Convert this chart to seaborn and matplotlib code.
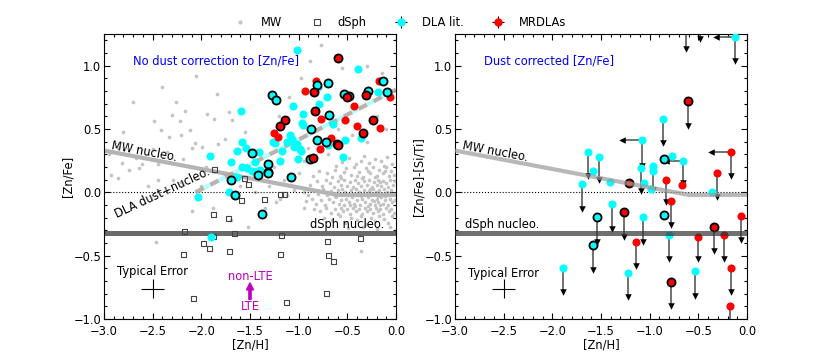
import numpy as np
import pandas as pd
import matplotlib
matplotlib.use('Agg')
import matplotlib.pyplot as plt
from matplotlib.lines import Line2D
from matplotlib.ticker import MultipleLocator
import seaborn as sns

# ---------------- data ----------------
mw_cloud = [
    (-0.55, 0.24), (-0.48, 0.27), (-0.41, 0.22), (-0.33, 0.29), (-0.28, 0.23), (-0.22, 0.26), (-0.15, 0.25),
    (-0.09, 0.28), (-0.04, 0.22), (-0.62, 0.21), (-0.36, 0.25), (-0.12, 0.21),
    (-0.71, 0.15), (-0.63, 0.18), (-0.58, 0.13), (-0.51, 0.19), (-0.46, 0.14), (-0.43, 0.20), (-0.38, 0.16),
    (-0.34, 0.12), (-0.31, 0.19), (-0.27, 0.15), (-0.24, 0.20), (-0.20, 0.13), (-0.17, 0.18), (-0.13, 0.15),
    (-0.10, 0.20), (-0.07, 0.13), (-0.05, 0.17), (-0.02, 0.14), (-0.53, 0.16), (-0.40, 0.13), (-0.29, 0.17),
    (-0.22, 0.12), (-0.11, 0.17), (-0.66, 0.12), (-0.79, 0.17), (-0.85, 0.13),
    (-0.88, 0.06), (-0.81, 0.09), (-0.76, 0.05), (-0.72, 0.10), (-0.68, 0.07), (-0.64, 0.04), (-0.60, 0.09),
    (-0.56, 0.06), (-0.53, 0.10), (-0.50, 0.05), (-0.47, 0.08), (-0.44, 0.04), (-0.42, 0.10), (-0.39, 0.07),
    (-0.36, 0.05), (-0.33, 0.09), (-0.30, 0.06), (-0.28, 0.10), (-0.25, 0.04), (-0.23, 0.08), (-0.20, 0.06),
    (-0.18, 0.10), (-0.15, 0.05), (-0.13, 0.09), (-0.10, 0.07), (-0.08, 0.04), (-0.06, 0.10), (-0.03, 0.06),
    (-0.01, 0.09), (-0.57, 0.11), (-0.35, 0.11), (-0.16, 0.08),
    (-0.95, 0.00), (-0.90, -0.02), (-0.84, 0.02), (-0.80, -0.01), (-0.75, 0.03), (-0.71, -0.02), (-0.67, 0.01),
    (-0.63, -0.03), (-0.60, 0.02), (-0.58, -0.01), (-0.55, 0.03), (-0.52, 0.00), (-0.49, -0.02), (-0.46, 0.02),
    (-0.44, -0.01), (-0.41, 0.03), (-0.38, 0.00), (-0.36, -0.03), (-0.33, 0.02), (-0.31, -0.01), (-0.28, 0.01),
    (-0.26, -0.02), (-0.24, 0.03), (-0.21, 0.00), (-0.19, -0.03), (-0.17, 0.02), (-0.14, -0.01), (-0.12, 0.03),
    (-0.09, 0.00), (-0.07, -0.02), (-0.05, 0.02), (-0.02, -0.01), (-0.39, -0.02), (-0.27, 0.03), (-0.11, -0.03),
    (-0.92, -0.07), (-0.86, -0.05), (-0.82, -0.09), (-0.77, -0.06), (-0.73, -0.10), (-0.69, -0.05), (-0.65, -0.08),
    (-0.62, -0.04), (-0.59, -0.09), (-0.56, -0.06), (-0.53, -0.10), (-0.51, -0.05), (-0.48, -0.08), (-0.45, -0.04),
    (-0.43, -0.09), (-0.40, -0.06), (-0.37, -0.10), (-0.35, -0.05), (-0.32, -0.08), (-0.29, -0.04), (-0.27, -0.09),
    (-0.25, -0.06), (-0.22, -0.10), (-0.20, -0.05), (-0.18, -0.08), (-0.15, -0.04), (-0.13, -0.09), (-0.11, -0.06),
    (-0.08, -0.10), (-0.06, -0.05), (-0.04, -0.08), (-0.01, -0.06), (-0.47, -0.10), (-0.23, -0.07), (-0.16, -0.10),
    (-0.84, -0.13), (-0.78, -0.15), (-0.72, -0.12), (-0.67, -0.16), (-0.63, -0.13), (-0.60, -0.17), (-0.57, -0.12),
    (-0.54, -0.15), (-0.50, -0.13), (-0.47, -0.17), (-0.44, -0.12), (-0.41, -0.15), (-0.38, -0.13), (-0.35, -0.17),
    (-0.32, -0.12), (-0.30, -0.15), (-0.27, -0.13), (-0.24, -0.16), (-0.21, -0.12), (-0.19, -0.15), (-0.16, -0.13),
    (-0.13, -0.17), (-0.10, -0.12), (-0.07, -0.15), (-0.05, -0.13), (-0.02, -0.16), (-0.42, -0.11), (-0.29, -0.11),
    (-0.74, -0.20), (-0.66, -0.22), (-0.58, -0.19), (-0.52, -0.24), (-0.46, -0.20), (-0.40, -0.22), (-0.36, -0.19),
    (-0.31, -0.25), (-0.26, -0.20), (-0.22, -0.23), (-0.17, -0.19), (-0.12, -0.21), (-0.08, -0.24), (-0.04, -0.19),
    (-0.49, -0.28), (-0.20, -0.29), (-0.34, -0.27), (-0.06, -0.27),
]
mw_scatter = [
    (-2.40, 0.83), (-1.84, 0.78), (-2.70, 0.71), (-2.26, 0.71), (-2.30, 0.61), (-2.17, 0.645), (-2.49, 0.56),
    (-2.22, 0.56), (-1.94, 0.62), (-1.72, 0.635), (-1.69, 0.57), (-1.87, 0.58), (-2.80, 0.48), (-2.41, 0.49),
    (-2.12, 0.49), (-2.06, 0.39), (-2.33, 0.44), (-2.21, 0.455), (-1.99, 0.36), (-1.83, 0.38), (-1.76, 0.42),
    (-2.86, 0.35), (-2.19, 0.26), (-2.10, 0.35), (-2.50, 0.34), (-2.67, 0.27), (-2.61, 0.22), (-2.74, 0.18),
    (-2.93, 0.14), (-2.64, 0.19), (-2.45, 0.22), (-2.81, 0.23), (-0.77, 1.16), (-0.88, 1.04), (-0.14, 0.94),
    (-2.86, 0.11), (-2.45, 0.10), (-2.29, 0.10), (-2.21, 0.08), (-1.88, -0.12), (-1.52, -0.27), (-2.47, -0.39),
    (-1.23, -0.08), (-1.19, -0.055), (-0.95, -0.12), (-0.36, -0.46), (-1.95, 0.20), (-1.78, 0.15), (-1.60, 0.05),
    (-1.45, 0.00), (-1.30, 0.05), (-1.15, 0.10), (-1.05, 0.02), (-1.25, 0.20), (-1.40, 0.30), (-0.95, 0.25),
    (-1.00, 0.15), (-0.90, 0.35), (-0.70, 0.30), (-0.60, 0.50), (-0.45, 0.45), (-0.30, 0.40), (-0.20, 0.60),
    (-0.10, 0.50), (-1.10, 0.75), (-0.98, 0.90), (-0.55, 0.98), (-2.00, 0.05), (-2.55, 0.05), (-2.95, 0.30),
    (-2.35, 0.32), (-1.65, 0.32), (-1.55, 0.48), (-2.05, 0.92), (-1.20, 0.60), (-0.30, 1.00), (-1.12, -0.02),
    (-1.35, -0.12), (-2.10, -0.15), (-1.70, -0.22),
]
mw_x = [p[0] for p in mw_cloud + mw_scatter]
mw_y = [p[1] for p in mw_cloud + mw_scatter]

dsph_x = [-1.86, -1.56, -1.52, -1.59, -1.35, -1.19, -1.15, -1.87, -1.72, -2.17, -1.66, -1.87, -1.18,
          -1.98, -1.92, -1.71, -2.18, -1.19, -0.70, -0.36, -0.69, -0.64, -2.08, -1.13, -0.71]
dsph_y = [0.18, 0.11, 0.065, -0.065, -0.06, -0.02, -0.02, -0.175, -0.21, -0.31, -0.325, -0.35, -0.34,
          -0.405, -0.44, -0.47, -0.49, -0.49, -0.39, -0.365, -0.50, -0.545, -0.835, -0.87, -0.80]

# DLA literature (left panel)
dla_x = [-1.02, -0.395, -1.59, -1.055, -0.79, -0.71, -0.80, -0.18, -0.96, -0.97, -0.96, -1.09, -1.07, -1.12,
         -1.02, -0.99, -1.05, -1.26, -1.58, -1.54, -1.63, -1.91, -1.70, -1.58, -1.53, -1.48, -1.43, -0.52,
         -0.54, -0.98, -1.63, -1.72, -2.03, -1.90, -0.65, -0.36, -0.70, -1.17, -1.24, -1.41, -1.45, -1.40,
         -1.19, -1.01]
dla_y = [1.12, 0.97, 0.64, 0.68, 0.70, 0.75, 0.83, 0.79, 0.62, 0.55, 0.53, 0.45, 0.42, 0.40,
         0.38, 0.34, 0.36, 0.40, 0.40, 0.35, 0.33, 0.29, 0.24, 0.20, 0.19, 0.17, 0.17, 0.41,
         0.28, 0.33, 0.12, 0.00, -0.04, -0.35, 0.54, 0.43, 0.37, 0.33, 0.39, 0.32, 0.24, 0.18,
         0.25, 0.26]
dla_sub_x = [-0.13, -0.09, -0.29, -0.48, -0.53, -0.70, -0.69, -0.87, -0.81, -0.72, -0.61, -0.88, -1.27,
             -1.23, -1.48, -1.32, -1.32, -1.70, -1.42, -1.65, -1.38, -1.31, -1.08, -0.81]
dla_sub_y = [0.88, 0.79, 0.80, 0.76, 0.78, 0.86, 0.61, 0.50, 0.41, 0.40, 0.38, 0.26, 0.77,
             0.73, 0.31, 0.22, 0.16, 0.10, 0.14, -0.02, -0.17, 0.15, 0.12, 0.85]

# MRDLAs (left panel)
mr_x = [-0.82, -0.93, -0.43, -0.77, -0.52, -0.40, -0.16, -0.17, -0.06, -1.25, -1.21, -0.67, -0.78]
mr_y = [0.88, 0.80, 0.68, 0.58, 0.57, 0.52, 0.51, 0.88, 0.75, 0.47, 0.44, 0.43, 0.34]
mr_sub_x = [-0.595, -0.83, -1.14, -1.19, -0.50, -0.31, -0.24, -0.34, -0.60, -0.85, -0.84]
mr_sub_y = [1.06, 0.64, 0.57, 0.52, 0.75, 0.77, 0.57, 0.47, 0.37, 0.27, 0.79]

# dust-corrected (right panel)
r_x = [-0.12, -0.63, -0.48, -0.61, -0.86, -1.08, -0.165, -0.66, -0.85, -0.77, -0.97, -0.97, -0.99, -1.09,
       -1.06, -0.835, -0.67, -0.31, -1.21, -1.63, -1.52, -1.58, -1.70, -1.41, -0.36, -0.78, -1.39, -1.26,
       -1.54, -0.85, -1.07, -1.58, -1.14, -0.80, -0.50, -0.34, -0.24, -0.06, -1.89, -1.22, -0.53, -0.78,
       -0.165, -0.17]
r_y = [1.23, 1.32, 1.32, 0.72, 0.58, 0.41, 0.32, 0.25, 0.26, 0.29, 0.21, 0.17, 0.03, 0.19,
       0.07, 0.10, 0.06, 0.15, 0.07, 0.32, 0.28, 0.17, 0.065, 0.08, 0.00, -0.07, -0.095, -0.155,
       -0.195, -0.18, -0.195, -0.415, -0.39, -0.34, -0.35, -0.27, -0.34, -0.19, -0.60, -0.64, -0.62, -0.71,
       -0.60, -0.90]
r_src = ['DLA', 'MR', 'MR', 'MR', 'DLA', 'DLA', 'MR', 'DLA', 'DLA', 'DLA', 'DLA', 'DLA', 'DLA', 'DLA',
         'DLA', 'MR', 'MR', 'MR', 'MR', 'DLA', 'DLA', 'DLA', 'DLA', 'DLA', 'DLA', 'MR', 'DLA', 'MR',
         'DLA', 'DLA', 'DLA', 'DLA', 'MR', 'DLA', 'MR', 'MR', 'MR', 'MR', 'DLA', 'DLA', 'DLA', 'MR',
         'MR', 'MR']
r_edge = [0, 0, 0, 1, 0, 0, 0, 0, 1, 0, 0, 0, 0, 0,
          0, 0, 0, 0, 1, 0, 0, 0, 0, 0, 0, 0, 0, 1,
          1, 1, 0, 1, 0, 0, 0, 1, 0, 0, 0, 0, 0, 1,
          0, 0]
nan = np.nan
r_ylim = [1.04, 1.13, 1.21, 0.52, 0.39, 0.21, 0.13, 0.07, nan, nan, 0.02, nan, nan, 0.01,
          nan, -0.08, nan, -0.04, nan, 0.13, 0.10, nan, -0.13, nan, nan, -0.26, -0.29, -0.35,
          -0.39, nan, -0.39, -0.61, -0.585, -0.53, -0.53, -0.46, -0.53, -0.38, -0.79, -0.83, -0.82, -0.90,
          -0.79, -1.10]
r_xlim = [-0.32, nan, nan, nan, nan, -1.28, -0.37, -0.83, nan, nan, nan, nan, nan, nan,
          nan, nan, nan, nan, nan, nan, nan, nan, nan, nan, nan, nan, nan, nan,
          nan, nan, nan, nan, nan, nan, nan, nan, nan, nan, nan, nan, nan, nan,
          nan, nan]

# reference lines
mw_nucleo_x = [-3.0, -0.6, 0.0]
mw_nucleo_y = [0.33, -0.02, -0.02]
dsph_nucleo_y = -0.32
dla_nucleo_x = [-2.06, 0.0]
dla_nucleo_y = [0.0, 0.81]

typ_err = dict(x=-2.5, y=-0.76, xerr=0.12, yerr=0.075)

# ---------------- style ----------------
sns.set_style('ticks')
plt.rcParams.update({
    'font.size': 8.3, 'axes.labelsize': 8.3, 'xtick.labelsize': 8.3, 'ytick.labelsize': 8.3,
    'axes.linewidth': 0.8, 'axes.edgecolor': 'black',
    'xtick.color': 'black', 'ytick.color': 'black', 'text.color': 'black', 'axes.labelcolor': 'black',
})
plt.rcParams['font.family'] = ['DejaVu Sans']

CYAN = '#00ffff'
RED = '#ff0000'
GREY = '#c4c4c4'

fig = plt.figure(figsize=(8.3, 3.56), dpi=100)
axL = fig.add_axes([0.1253, 0.1039, 0.3518, 0.8006])
axR = fig.add_axes([0.5482, 0.1039, 0.3518, 0.8006])


def style(ax, ylabel):
    ax.set_xlim(-3.0, 0.0)
    ax.set_ylim(-1.0, 1.25)
    ax.xaxis.set_major_locator(MultipleLocator(0.5))
    ax.xaxis.set_minor_locator(MultipleLocator(0.1))
    ax.yaxis.set_major_locator(MultipleLocator(0.5))
    ax.yaxis.set_minor_locator(MultipleLocator(0.1))
    ax.tick_params(which='both', direction='in', top=True, right=True, width=0.8)
    ax.tick_params(which='major', length=4)
    ax.tick_params(axis='x', which='major', pad=4)
    ax.tick_params(axis='y', which='major', pad=2)
    ax.tick_params(which='minor', length=2)
    ax.set_xlabel('[Zn/H]', labelpad=1)
    ax.set_ylabel(ylabel, labelpad=-1)
    for s in ax.spines.values():
        s.set_visible(True)
        s.set_linewidth(0.8)
        s.set_color('black')
    ax.axhline(0.0, color='black', ls=':', lw=0.8, zorder=1)


# ---------------- left panel ----------------
ax = axL
sns.scatterplot(x=mw_x, y=mw_y, ax=ax, color=GREY, s=7, linewidth=0, zorder=1)
ax.plot(mw_nucleo_x, mw_nucleo_y, color='#b4b4b4', lw=3.0, zorder=2, solid_capstyle='butt')
ax.axhline(dsph_nucleo_y, color='#6a6a6a', lw=3.6, zorder=2)
ax.plot(dla_nucleo_x, dla_nucleo_y, color=CYAN, alpha=0.3, lw=3.0, zorder=2, solid_capstyle='butt')
ax.plot(dla_nucleo_x, dla_nucleo_y, color='#c0a49c', alpha=0.85, lw=3.0, ls=(0, (2.2, 1.8)), zorder=2)
sns.scatterplot(x=dsph_x, y=dsph_y, ax=ax, marker='s', s=13, facecolor='none', edgecolor='#444444',
                linewidth=0.8, zorder=3)
sns.scatterplot(x=dla_x, y=dla_y, ax=ax, color=CYAN, s=34, linewidth=0, zorder=4)
sns.scatterplot(x=mr_x, y=mr_y, ax=ax, color=RED, s=34, linewidth=0, zorder=4)
sns.scatterplot(x=dla_sub_x, y=dla_sub_y, ax=ax, color=CYAN, edgecolor='black', s=34, linewidth=1.3, zorder=5)
sns.scatterplot(x=mr_sub_x, y=mr_sub_y, ax=ax, color=RED, edgecolor='black', s=34, linewidth=1.3, zorder=5)
ax.errorbar(typ_err['x'], typ_err['y'], xerr=typ_err['xerr'], yerr=typ_err['yerr'], fmt='none',
            ecolor='black', elinewidth=0.8, capsize=0, zorder=5)
ax.text(-2.70, 1.01, 'No dust correction to [Zn/Fe]', color='blue', ha='left', va='baseline')
ax.text(-2.93, 0.345, 'MW nucleo.', rotation=-10.5, rotation_mode='anchor', ha='left', va='baseline')
ax.text(-2.87, -0.205, 'DLA dust+nucleo.', rotation=25, rotation_mode='anchor', ha='left', va='baseline')
ax.text(-0.12, -0.285, 'dSph nucleo.', ha='right', va='baseline')
ax.text(-2.87, -0.655, 'Typical Error', ha='left', va='baseline')
ax.text(-1.5, -0.69, 'non-LTE', color='m', ha='center', va='baseline')
ax.text(-1.5, -0.925, 'LTE', color='m', ha='center', va='baseline')
ax.annotate('', xy=(-1.5, -0.715), xytext=(-1.5, -0.845),
            arrowprops=dict(color='m', width=1.6, headwidth=5, headlength=5, shrink=0))
style(ax, '[Zn/Fe]')

# ---------------- right panel ----------------
ax = axR
rdf = pd.DataFrame({'x': r_x, 'y': r_y, 'src': r_src, 'edge': r_edge, 'ylim': r_ylim, 'xlim': r_xlim})
ylims = rdf.dropna(subset=['ylim'])
xlims = rdf.dropna(subset=['xlim'])
for _, r in ylims.iterrows():
    ax.plot([r.x, r.x], [r.y, r.ylim], color='0.35', lw=1.2, zorder=2)
for _, r in xlims.iterrows():
    ax.plot([r.x, r.xlim], [r.y, r.y], color='0.35', lw=1.2, zorder=2)
sns.scatterplot(x=ylims['x'], y=ylims['ylim'], ax=ax, marker='v', color='black', s=22, linewidth=0, zorder=3)
sns.scatterplot(x=xlims['xlim'], y=xlims['y'], ax=ax, marker='<', color='black', s=22, linewidth=0, zorder=3)
for src, col in (('DLA', CYAN), ('MR', RED)):
    d0 = rdf[(rdf.src == src) & (rdf.edge == 0)]
    d1 = rdf[(rdf.src == src) & (rdf.edge == 1)]
    sns.scatterplot(x=d0['x'], y=d0['y'], ax=ax, color=col, s=34, linewidth=0, zorder=4)
    sns.scatterplot(x=d1['x'], y=d1['y'], ax=ax, color=col, edgecolor='black', s=34, linewidth=1.3, zorder=5)
ax.plot(mw_nucleo_x, mw_nucleo_y, color='#9a9a9a', alpha=0.7, lw=3.0, zorder=6, solid_capstyle='butt')
ax.axhline(dsph_nucleo_y, color='#333333', alpha=0.7, lw=3.6, zorder=6)
ax.errorbar(typ_err['x'], typ_err['y'], xerr=typ_err['xerr'], yerr=typ_err['yerr'], fmt='none',
            ecolor='black', elinewidth=0.8, capsize=0, zorder=5)
ax.text(-2.70, 1.01, 'Dust corrected [Zn/Fe]', color='blue', ha='left', va='baseline')
ax.text(-2.93, 0.345, 'MW nucleo.', rotation=-10.5, rotation_mode='anchor', ha='left', va='baseline')
ax.text(-2.90, -0.285, 'dSph nucleo.', ha='left', va='baseline')
ax.text(-2.87, -0.665, 'Typical Error', ha='left', va='baseline')
style(ax, '[Zn/Fe]-[Si/Ti]')

# ---------------- legend ----------------
h_mw = Line2D([], [], marker='o', ls='none', color=GREY, ms=3, mec='none')
h_ds = Line2D([], [], marker='s', ls='none', mfc='none', mec='#444444', ms=4, mew=0.8)
h_dla = axL.errorbar([np.nan], [np.nan], xerr=[0.1], yerr=[0.1], fmt='o', color=CYAN, ecolor='black',
                     ms=6, elinewidth=0.8, capsize=2, mew=0)
h_mr = axL.errorbar([np.nan], [np.nan], xerr=[0.1], yerr=[0.1], fmt='o', color=RED, ecolor='black',
                    ms=6, elinewidth=0.8, capsize=2, mew=0)
fig.legend([h_mw, h_ds, h_dla, h_mr], ['MW', 'dSph', 'DLA lit.', 'MRDLAs'], loc='center',
           bbox_to_anchor=(0.481, 0.937), ncol=4, frameon=False, fontsize=8.3,
           handlelength=1.4, handletextpad=1.1, columnspacing=2.3, numpoints=1)

fig.savefig('out.png', dpi=100)
